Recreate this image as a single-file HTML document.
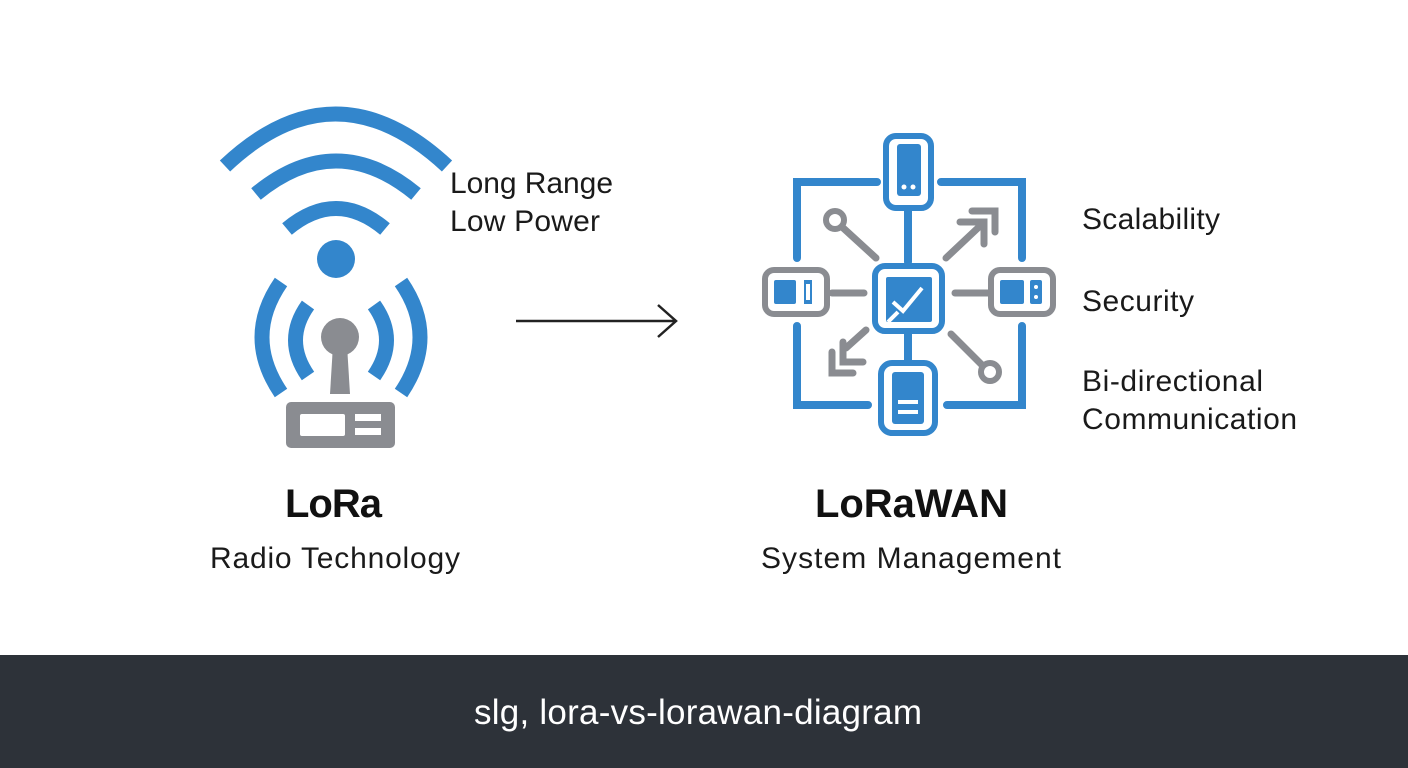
<!DOCTYPE html>
<html><head><meta charset="utf-8"><style>
html,body{margin:0;padding:0;background:#fff;}
svg{display:block;}
text{font-family:"Liberation Sans",sans-serif;}
</style></head><body>
<svg width="1408" height="768" viewBox="0 0 1408 768" xmlns="http://www.w3.org/2000/svg">
<rect width="1408" height="768" fill="#fff"/>
<g fill="none" stroke="#3386cc" stroke-width="15" stroke-linecap="butt">
<path d="M225 166 Q335 62 447 166"/>
<path d="M256 194 Q336 128 416 194"/>
<path d="M287 229 Q336 188 385 229"/>
<path d="M281 282 Q243 337 281 393"/>
<path d="M308 305 Q283 340 308 376"/>
<path d="M401 282 Q439 337 401 393"/>
<path d="M374 305 Q399 340 374 376"/>
</g>
<circle cx="336" cy="259" r="19" fill="#3386cc"/>
<circle cx="340" cy="337" r="19" fill="#8a8c91"/>
<path d="M333 345 L347 345 L350 394 L330 394 Z" fill="#8a8c91"/>
<rect x="286" y="402" width="109" height="46" rx="5" fill="#8a8c91"/>
<rect x="300" y="414" width="45" height="22" rx="2" fill="#fff"/>
<rect x="355" y="414" width="26" height="7" fill="#fff"/>
<rect x="355" y="428" width="26" height="7" fill="#fff"/>
<text x="450" y="193" font-size="30" fill="#1a1a1a" textLength="163">Long Range</text>
<text x="450" y="231" font-size="30" fill="#1a1a1a" textLength="150">Low Power</text>
<path d="M516 321 L676 321 M658 305 L676 321 L658 337" fill="none" stroke="#222" stroke-width="2.5"/>
<g fill="none" stroke="#3386cc" stroke-width="8" stroke-linecap="round">
<path d="M877 182 L797 182 L797 258"/>
<path d="M941 182 L1022 182 L1022 258"/>
<path d="M797 326 L797 405 L868 405"/>
<path d="M947 405 L1022 405 L1022 326"/>
<path d="M908 210 L908 262 M908 334 L908 360"/>
</g>
<g fill="none" stroke="#8a8c91" stroke-width="7" stroke-linecap="round">
<path d="M832 293 L864 293 M955 293 L988 293"/>
<path d="M841 226 L876 258"/>
<path d="M946 258 L980 226 M972 211 L995 211 L995 232 M960 222 L984 222 L984 244"/>
<path d="M866 330 L846 348 M832 352 L832 373 L853 373 M843 342 L843 362 L863 362"/>
<path d="M951 334 L983 366"/>
</g>
<circle cx="835" cy="220" r="9" fill="#fff" stroke="#8a8c91" stroke-width="6"/>
<circle cx="990" cy="372" r="9" fill="#fff" stroke="#8a8c91" stroke-width="6"/>
<rect x="886" y="136" width="45" height="72" rx="10" fill="#fff" stroke="#3386cc" stroke-width="6"/>
<rect x="897" y="144" width="24" height="52" rx="3" fill="#3386cc"/>
<circle cx="904" cy="187" r="2.5" fill="#fff"/><circle cx="913" cy="187" r="2.5" fill="#fff"/>
<rect x="881" y="363" width="54" height="70" rx="11" fill="#fff" stroke="#3386cc" stroke-width="6"/>
<rect x="892" y="372" width="32" height="52" rx="3" fill="#3386cc"/>
<rect x="898" y="400" width="20" height="4" fill="#fff"/><rect x="898" y="410" width="20" height="4" fill="#fff"/>
<rect x="875" y="266" width="67" height="65" rx="10" fill="#fff" stroke="#3386cc" stroke-width="6"/>
<rect x="886" y="277" width="46" height="45" rx="2" fill="#3386cc"/>
<path d="M893 302 L903 311 L922 288 M888 322 L898 312" fill="none" stroke="#fff" stroke-width="4"/>
<rect x="765" y="270" width="62" height="44" rx="9" fill="#fff" stroke="#8a8c91" stroke-width="6"/>
<rect x="774" y="280" width="22" height="24" rx="2" fill="#3386cc"/>
<rect x="804" y="280" width="8" height="24" fill="#3386cc"/><rect x="806" y="284" width="4" height="16" fill="#fff"/>
<rect x="991" y="270" width="62" height="44" rx="9" fill="#fff" stroke="#8a8c91" stroke-width="6"/>
<rect x="1000" y="280" width="24" height="24" rx="2" fill="#3386cc"/>
<rect x="1030" y="280" width="12" height="24" rx="2" fill="#3386cc"/>
<circle cx="1036" cy="287" r="2" fill="#fff"/><circle cx="1036" cy="297" r="2" fill="#fff"/>
<text x="1082" y="229" font-size="30" fill="#1a1a1a" textLength="138">Scalability</text>
<text x="1082" y="311" font-size="30" fill="#1a1a1a" textLength="112">Security</text>
<text x="1082" y="391" font-size="30" fill="#1a1a1a" textLength="181">Bi-directional</text>
<text x="1082" y="429" font-size="30" fill="#1a1a1a" textLength="215">Communication</text>
<text x="285" y="517" font-size="40" font-weight="bold" fill="#111" textLength="97">LoRa</text>
<text x="210" y="568" font-size="30" fill="#1a1a1a" textLength="250">Radio Technology</text>
<text x="815" y="517" font-size="40" font-weight="bold" fill="#111" textLength="193">LoRaWAN</text>
<text x="761" y="568" font-size="30" fill="#1a1a1a" textLength="300">System Management</text>
<rect x="0" y="655" width="1408" height="113" fill="#2d3239"/>
<text x="474" y="724" font-size="35" fill="#fff" textLength="448">slg, lora-vs-lorawan-diagram</text>
</svg>
</body></html>
